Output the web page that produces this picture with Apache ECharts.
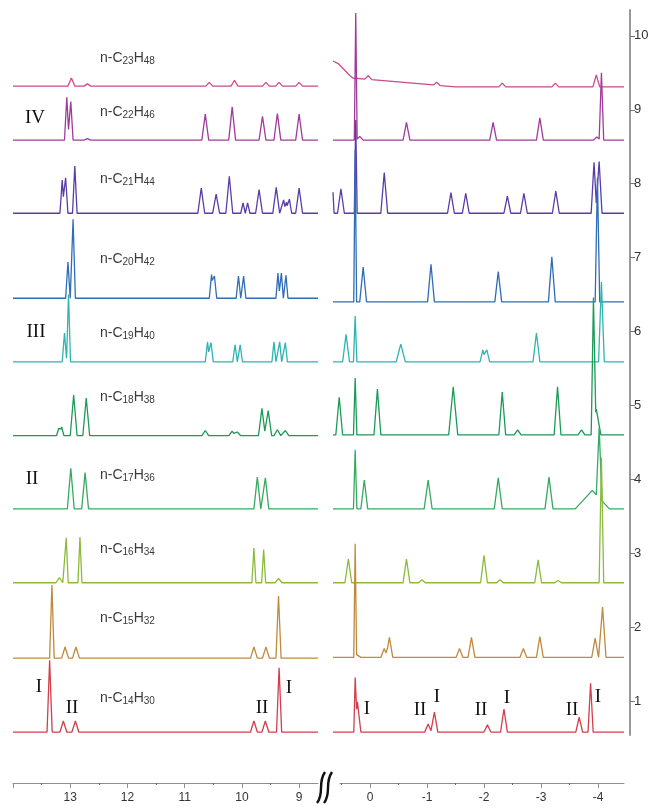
<!DOCTYPE html>
<html>
<head>
<meta charset="utf-8">
<script src="https://cdn.jsdelivr.net/npm/echarts@6/dist/echarts.min.js"></script>
<style>
  html, body { margin: 0; padding: 0; background: #fff; }
  #chart { width: 654px; height: 810px; }
</style>
</head>
<body>
<div id="chart"></div>
<script>
// compounds, top to bottom
var carbons = [23, 22, 21, 20, 19, 18, 17, 16, 15, 14];
var hydrogens = [48, 46, 44, 42, 40, 38, 36, 34, 32, 30];
// stacking offset of each trace (right axis units)
var leftBase = [9.32, 8.59, 7.60, 6.45, 5.59, 4.59, 3.60, 2.60, 1.58, 0.58];
var rightBase = [9.31, 8.59, 7.60, 6.40, 5.59, 4.60, 3.60, 2.60, 1.59, 0.58];

// peaks: [ppm, height, half width (optional)]
var leftPeaks = [
  [[12.98, 0.11], [12.7, 0.03], [10.57, 0.05], [10.13, 0.08], [9.58, 0.05], [9.35, 0.05], [9.0, 0.05]],
  [[13.06, 0.58, 0.04], [12.99, 0.52, 0.04], [12.7, 0.02], [10.64, 0.35], [10.17, 0.45], [9.64, 0.32], [9.38, 0.36], [9.0, 0.35]],
  [[13.14, 0.45, 0.04], [13.08, 0.48, 0.04], [12.92, 0.64, 0.04], [10.71, 0.34], [10.45, 0.26], [10.22, 0.50],
   [9.98, 0.14, 0.04], [9.9, 0.14, 0.04], [9.7, 0.32], [9.4, 0.35], [9.27, 0.18, 0.04], [9.22, 0.15, 0.03], [9.17, 0.19, 0.04], [9.0, 0.34]],
  [[13.04, 0.49, 0.04], [12.95, 1.07, 0.04], [10.53, 0.32, 0.04], [10.48, 0.30, 0.04], [10.06, 0.30, 0.04], [9.97, 0.30, 0.04],
   [9.37, 0.34, 0.035], [9.31, 0.34, 0.035], [9.23, 0.31, 0.035]],
  [[13.10, 0.39, 0.04], [13.03, 0.91, 0.035], [10.6, 0.27, 0.04], [10.54, 0.26, 0.04], [10.12, 0.23, 0.04], [10.03, 0.23, 0.04],
   [9.44, 0.27, 0.035], [9.34, 0.27, 0.035], [9.24, 0.26, 0.035]],
  [[13.2, 0.10, 0.04], [13.15, 0.12, 0.04], [12.94, 0.55], [12.72, 0.51], [10.64, 0.07], [10.17, 0.06], [10.08, 0.05],
   [9.65, 0.37], [9.54, 0.34], [9.38, 0.08], [9.24, 0.07]],
  [[12.99, 0.55], [12.74, 0.49], [9.73, 0.43], [9.59, 0.42]],
  [[13.19, 0.07], [13.07, 0.61, 0.035], [12.83, 0.62, 0.035], [9.79, 0.47, 0.035], [9.62, 0.45, 0.035], [9.36, 0.06]],
  [[13.32, 0.99, 0.04], [13.09, 0.15], [12.9, 0.15], [9.79, 0.15], [9.58, 0.15], [9.36, 0.84, 0.045]],
  [[13.36, 0.97, 0.045], [13.12, 0.15], [12.91, 0.15], [9.79, 0.15], [9.59, 0.15], [9.35, 0.87, 0.045]]
];
var rightPeaks = [
  [[0.75, 0.30, 0.45], [0.3, 0.12, 1.8], [0.55, 0.04, 0.2], [0.03, 0.05], [-1.17, 0.04], [-2.32, 0.05], [-3.25, 0.05], [-3.97, 0.16]],
  [[0.25, 1.72, 0.025], [0.18, 0.05], [-0.64, 0.24], [-2.16, 0.24], [-2.98, 0.30], [-3.98, 0.04], [-4.06, 0.91, 0.04]],
  [[0.66, 0.45, 0.03], [0.51, 0.33], [0.25, 1.26, 0.025], [-0.25, 0.55], [-1.42, 0.28], [-1.68, 0.27], [-2.41, 0.23],
   [-2.70, 0.27], [-3.26, 0.30], [-3.93, 0.69, 0.05], [-4.02, 0.70, 0.05]],
  [[0.26, 2.06, 0.025], [0.12, 0.47], [-1.07, 0.51], [-2.25, 0.41], [-3.19, 0.61], [-3.99, 1.68, 0.04]],
  [[0.42, 0.37], [0.26, 0.62, 0.03], [-0.54, 0.24, 0.08], [-1.98, 0.16, 0.05], [-2.05, 0.16, 0.05], [-2.92, 0.39], [-4.06, 1.08, 0.05]],
  [[0.54, 0.51], [0.26, 0.77, 0.03], [-0.13, 0.62], [-1.46, 0.65, 0.08], [-2.32, 0.58], [-2.59, 0.07], [-3.29, 0.65],
   [-3.71, 0.07], [-3.92, 1.73, 0.04], [-3.97, 0.35, 0.08]],
  [[0.26, 0.80, 0.03], [0.10, 0.39], [-1.02, 0.39, 0.07], [-2.25, 0.42, 0.07], [-3.14, 0.43, 0.07], [-3.9, 0.25, 0.3], [-4.02, 0.95, 0.05]],
  [[0.38, 0.32], [-0.64, 0.32], [-0.91, 0.04], [-2.0, 0.37], [-2.28, 0.04], [-2.95, 0.31], [-3.3, 0.03], [-4.06, 1.69, 0.04]],
  [[0.26, 1.52, 0.025], [0.22, 0.05], [-0.25, 0.12], [-0.34, 0.27], [-1.57, 0.12], [-1.78, 0.27], [-2.69, 0.12],
   [-2.98, 0.28], [-3.95, 0.26], [-4.08, 0.68]],
  [[0.26, 0.60, 0.025], [0.22, 0.41, 0.06], [-1.02, 0.11], [-1.13, 0.27], [-2.06, 0.1], [-2.35, 0.31], [-3.67, 0.2], [-3.87, 0.66, 0.045]]
];

var leftTicks = [14, 13, 12, 11, 10, 9];
var leftLabels = [13, 12, 11, 10, 9];
var leftMinor = [13.5, 12.5, 11.5, 10.5, 9.5];
var rightTicks = [0, -1, -2, -3, -4];
var rightMinor = [0.5, -0.5, -1.5, -2.5, -3.5];
var yTicks = [1, 2, 3, 4, 5, 6, 7, 8, 9, 10];

var colors = ['#cc4a8e', '#a23a9c', '#5a3ca8', '#2f6db6', '#2fb4b0', '#1c9a57', '#36aa62', '#8bba3d', '#c08a3c', '#d23e4c'];

var LEFT_RANGE = [8.67, 14];
var RIGHT_RANGE = [-4.456, 0.649];
var AXIS_RIGHT_RANGE = [-4.456, 0.526];
var Y_RANGE = [0.54, 10.35];

function trace(peaks, base, lo, hi) {
  var xs = [lo, hi];
  peaks.forEach(function (pk) {
    var w = pk[2] || 0.06;
    xs.push(pk[0] - w, pk[0], pk[0] + w);
  });
  xs = xs.filter(function (x) { return x >= lo && x <= hi; }).sort(function (a, b) { return b - a; });
  return xs.map(function (x) {
    var s = 0;
    peaks.forEach(function (pk) {
      var w = pk[2] || 0.06;
      var d = Math.abs(x - pk[0]);
      if (d < w) s += pk[1] * (1 - d / w);
    });
    return [x, base + s];
  });
}

var chart = echarts.init(document.getElementById('chart'));

var series = [];
for (var i = 0; i < carbons.length; i++) {
  series.push({
    type: 'line', xAxisIndex: 0, yAxisIndex: 0, symbol: 'none', animation: false,
    lineStyle: { color: colors[i], width: 1.3 },
    data: trace(leftPeaks[i], leftBase[i], LEFT_RANGE[0], LEFT_RANGE[1])
  });
  series.push({
    type: 'line', xAxisIndex: 1, yAxisIndex: 1, symbol: 'none', animation: false,
    lineStyle: { color: colors[i], width: 1.3 },
    data: trace(rightPeaks[i], rightBase[i], RIGHT_RANGE[0], RIGHT_RANGE[1])
  });
}

var axisGray = '#8f8f8f';
var labelFont = { color: '#333', fontSize: 12, fontFamily: 'Liberation Sans' };

function hiddenY(idx) {
  return { gridIndex: idx, type: 'value', min: 0, max: 1, show: false };
}

// compound names and roman numerals
var graphics = [];
var nameY = [58, 112, 179, 259, 333, 397, 475, 549, 618, 698];
carbons.forEach(function (c, i) {
  graphics.push({
    type: 'text', x: 100, y: nameY[i],
    style: {
      text: 'n-C{s|' + c + '}H{s|' + hydrogens[i] + '}',
      fill: '#3a3a3a', font: '14px "Liberation Sans"', textVerticalAlign: 'middle',
      rich: { s: { fontSize: 10, fontFamily: 'Liberation Sans', fill: '#3a3a3a', padding: [7, 0, 0, 0] } }
    }
  });
});
var romans = [
  ['IV', 35, 118], ['III', 36, 332], ['II', 32, 479],
  ['I', 39, 687], ['II', 72, 708], ['II', 262, 708], ['I', 289, 688],
  ['I', 367, 709], ['II', 420, 710], ['I', 437, 697], ['II', 481, 710],
  ['I', 507, 698], ['II', 572, 710], ['I', 598, 697]
];
romans.forEach(function (r) {
  graphics.push({
    type: 'text', x: r[1], y: r[2],
    style: { text: r[0], fill: '#111', font: '19px "Liberation Serif"', textAlign: 'center', textVerticalAlign: 'middle' }
  });
});
// axis break mark
[[317, 324], [324, 331]].forEach(function (b) {
  graphics.push({
    type: 'bezierCurve',
    shape: { x1: b[0], y1: 803, x2: b[1] + 1, y2: 772, cpx1: b[0] + 8, cpy1: 792, cpx2: b[1] - 7, cpy2: 784 },
    style: { stroke: '#111', lineWidth: 2.4, fill: null }
  });
});

chart.setOption({
  animation: false,
  backgroundColor: '#fff',
  grid: [
    { left: 13, top: 10, width: 305, height: 725 },
    { left: 333, top: 10, width: 291, height: 725 },
    { left: 13, top: 782, width: 305, height: 1 },
    { left: 13, top: 782, width: 305, height: 1 },
    { left: 340, top: 782, width: 284, height: 1 },
    { left: 340, top: 782, width: 284, height: 1 }
  ],
  xAxis: [
    { gridIndex: 0, type: 'value', min: LEFT_RANGE[0], max: LEFT_RANGE[1], inverse: true, show: false },
    { gridIndex: 1, type: 'value', min: RIGHT_RANGE[0], max: RIGHT_RANGE[1], inverse: true, show: false },
    {
      gridIndex: 2, type: 'value', min: LEFT_RANGE[0], max: LEFT_RANGE[1], inverse: true, position: 'bottom',
      axisLine: { onZero: false, lineStyle: { color: axisGray, width: 1 } },
      axisTick: { customValues: leftTicks, length: 5, lineStyle: { color: axisGray } },
      axisLabel: Object.assign({ customValues: leftLabels, margin: 9 }, labelFont),
      splitLine: { show: false }
    },
    {
      gridIndex: 3, type: 'value', min: LEFT_RANGE[0], max: LEFT_RANGE[1], inverse: true, position: 'bottom',
      axisLine: { show: false, onZero: false },
      axisTick: { customValues: leftMinor, length: 2, lineStyle: { color: '#666' } },
      axisLabel: { show: false }, splitLine: { show: false }
    },
    {
      gridIndex: 4, type: 'value', min: AXIS_RIGHT_RANGE[0], max: AXIS_RIGHT_RANGE[1], inverse: true, position: 'bottom',
      axisLine: { onZero: false, lineStyle: { color: axisGray, width: 1 } },
      axisTick: { customValues: rightTicks, length: 5, lineStyle: { color: axisGray } },
      axisLabel: Object.assign({ customValues: rightTicks, margin: 9 }, labelFont),
      splitLine: { show: false }
    },
    {
      gridIndex: 5, type: 'value', min: AXIS_RIGHT_RANGE[0], max: AXIS_RIGHT_RANGE[1], inverse: true, position: 'bottom',
      axisLine: { show: false, onZero: false },
      axisTick: { customValues: rightMinor, length: 2, lineStyle: { color: '#666' } },
      axisLabel: { show: false }, splitLine: { show: false }
    }
  ],
  yAxis: [
    { gridIndex: 0, type: 'value', min: Y_RANGE[0], max: Y_RANGE[1], show: false },
    {
      gridIndex: 1, type: 'value', min: Y_RANGE[0], max: Y_RANGE[1], position: 'right', offset: 6,
      axisLine: { show: true, onZero: false, lineStyle: { color: '#999', width: 2 } },
      axisTick: { show: true, customValues: yTicks, length: 5, lineStyle: { color: '#777' } },
      axisLabel: Object.assign({ customValues: yTicks, margin: 4 }, labelFont, { fontSize: 13 }),
      splitLine: { show: false }
    },
    hiddenY(2), hiddenY(3), hiddenY(4), hiddenY(5)
  ],
  graphic: graphics,
  series: series
});
</script>
</body>
</html>
